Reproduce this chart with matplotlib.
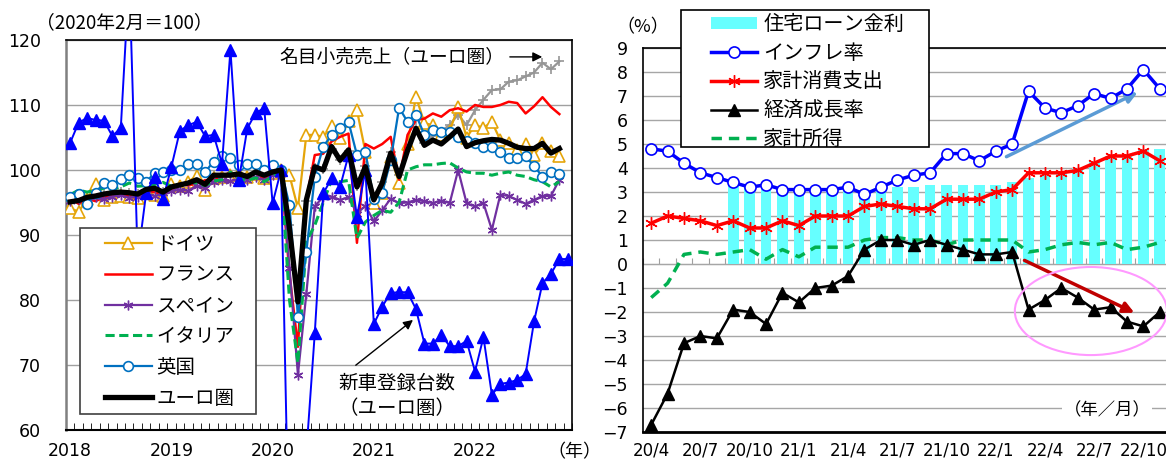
import numpy as np
import matplotlib.pyplot as plt
from matplotlib.patches import Ellipse, Rectangle

plt.rcParams['font.family'] = ['Noto Sans CJK JP', 'DejaVu Sans']

# ---- left panel: monthly index, 2018/1 - 2022/12 (Feb 2020 = 100) ----
year_labels = ['2018', '2019', '2020', '2021', '2022']

euro = [95.1, 95.3, 95.8, 96.0, 96.3, 96.5, 96.6, 96.5, 96.3, 97.0, 97.2, 96.6,
        97.4, 97.7, 98.0, 98.5, 97.8, 99.2, 99.2, 99.2, 99.4, 99.0, 99.7, 99.2,
        99.7, 100.0, 91.0, 79.7, 95.4, 100.5, 100.0, 103.6, 101.5, 103.1, 97.4, 100.5,
        95.4, 98.0, 102.6, 99.0, 103.0, 106.4, 103.8, 104.6, 104.0, 105.1, 106.3, 103.6,
        104.2, 104.5, 104.7, 104.6, 104.1, 103.5, 103.3, 103.3, 104.1, 102.6, 103.3]
germany = [94.1, 93.6, 95.5, 97.8, 95.4, 95.8, 96.0, 95.8, 95.7, 96.6, 96.2, 96.0,
           97.8, 97.5, 98.2, 99.1, 97.0, 98.8, 99.0, 99.2, 99.6, 98.9, 99.4, 98.7,
           99.5, 100.0, 99.2, 94.1, 105.4, 105.4, 105.1, 106.7, 104.9, 107.5, 109.2, 102.8,
           95.0, 96.5, 102.0, 98.0, 104.0, 111.3, 107.2, 106.9, 105.4, 106.0, 109.7, 105.0,
           106.9, 106.5, 107.4, 104.6, 104.2, 103.1, 104.0, 102.3, 104.1, 103.0, 102.1]
france = [95.6, 94.8, 95.6, 95.2, 95.8, 96.0, 96.3, 96.0, 95.7, 96.8, 96.6, 96.2,
          97.0, 97.9, 97.6, 98.0, 98.4, 98.6, 99.0, 99.7, 99.0, 99.2, 99.5, 98.6,
          99.6, 100.0, 84.0, 72.8, 95.5, 102.3, 102.5, 104.4, 105.1, 105.6, 88.8, 104.0,
          103.3, 104.0, 105.1, 98.5, 105.4, 107.7, 107.9, 108.7, 108.2, 109.2, 109.5, 109.0,
          110.0, 109.7, 109.7, 110.0, 110.5, 110.3, 108.7, 109.8, 111.2, 109.7, 108.6]
spain = [95.3, 95.6, 95.2, 95.8, 95.5, 95.9, 96.1, 95.7, 95.9, 96.3, 96.0, 96.4,
         96.7, 97.0, 96.8, 97.6, 97.2, 98.2, 98.4, 98.3, 98.6, 98.5, 98.9, 98.4,
         99.2, 100.0, 85.0, 68.5, 81.0, 94.4, 95.9, 95.9, 95.4, 95.8, 93.3, 94.5,
         92.1, 93.8, 95.6, 94.9, 95.0, 95.4, 95.2, 94.9, 95.3, 94.9, 100.0, 94.9,
         94.4, 94.9, 90.8, 96.2, 96.0, 95.4, 94.8, 95.4, 96.0, 96.0, 98.5]
italy = [96.2, 96.9, 96.6, 96.9, 97.2, 97.0, 97.4, 98.0, 97.5, 97.6, 97.8, 98.1,
         97.5, 97.7, 98.2, 98.0, 97.6, 98.3, 98.5, 99.7, 98.6, 98.4, 98.8, 98.2,
         99.0, 100.0, 80.0, 70.3, 89.0, 91.5, 95.0, 98.5, 98.2, 98.4, 89.5, 92.0,
         93.0, 93.8, 93.5, 95.0, 100.0, 100.5, 100.8, 100.8, 101.0, 101.1, 100.3, 99.7,
         99.5, 99.5, 99.2, 99.5, 99.7, 99.2, 99.0, 98.5, 98.2, 97.4, 98.2]
uk = [95.8, 96.3, 94.8, 96.5, 98.0, 97.7, 98.6, 99.2, 98.7, 98.2, 99.5, 99.7,
      100.0, 100.0, 101.0, 101.0, 99.7, 101.3, 102.1, 101.8, 100.8, 101.0, 100.9, 100.0,
      100.7, 100.0, 94.6, 77.4, 87.4, 99.0, 103.6, 105.4, 106.5, 107.4, 102.3, 102.8,
      95.5, 96.5, 101.5, 109.6, 107.4, 108.5, 105.4, 106.2, 105.9, 105.9, 105.1, 104.4,
      104.1, 103.6, 103.6, 102.7, 101.8, 101.8, 102.1, 100.6, 99.0, 99.7, 99.4]
retail_nominal = [95.0, 95.2, 95.7, 96.0, 96.2, 96.4, 96.6, 96.5, 96.3, 96.9, 97.1, 96.6,
                  97.3, 97.6, 97.9, 98.4, 97.8, 99.1, 99.2, 99.1, 99.4, 99.0, 99.6, 99.2,
                  99.7, 100.0, 91.5, 79.8, 95.2, 100.3, 100.2, 103.3, 101.6, 103.0, 97.6, 100.6,
                  95.6, 98.2, 102.8, 99.3, 103.4, 106.6, 104.2, 105.2, 105.9, 107.0, 108.5, 106.9,
                  109.2, 110.8, 112.3, 112.4, 113.6, 113.8, 114.4, 115.0, 116.5, 115.5, 116.7]
car_reg = [104.2, 107.3, 108.0, 107.7, 107.6, 105.2, 106.5, 130.0, 86.3, 96.4, 99.0, 95.5,
           100.5, 106.0, 106.9, 107.4, 105.2, 105.4, 101.0, 118.5, 98.5, 106.4, 108.8, 109.5,
           94.9, 100.0, 38.0, 20.0, 56.5, 74.9, 96.4, 98.7, 97.4, 102.3, 92.8, 100.0,
           76.3, 79.0, 81.1, 81.2, 81.2, 78.6, 73.3, 73.3, 74.6, 72.9, 72.9, 73.7,
           69.0, 74.3, 65.4, 67.1, 67.3, 67.7, 68.6, 76.7, 82.6, 84.0, 86.3, 86.3]

# ---- right panel: 2020/4 - 2022/11 (%) ----
month_labels = ['20/4', '20/7', '20/10', '21/1', '21/4', '21/7',
                '21/10', '22/1', '22/4', '22/7', '22/10']
inflation = [4.8, 4.7, 4.2, 3.8, 3.6, 3.4, 3.2, 3.3, 3.1, 3.1, 3.1, 3.1, 3.2, 2.9, 3.2, 3.5,
             3.7, 3.8, 4.6, 4.6, 4.3, 4.7, 5.0, 7.2, 6.5, 6.3, 6.6, 7.1, 6.9, 7.3, 8.1, 7.3]
consumption = [1.7, 2.0, 1.9, 1.8, 1.6, 1.8, 1.5, 1.5, 1.8, 1.6, 2.0, 2.0, 2.0, 2.4, 2.5, 2.4,
               2.3, 2.3, 2.7, 2.7, 2.7, 3.0, 3.1, 3.8, 3.8, 3.8, 3.9, 4.2, 4.5, 4.5, 4.7, 4.3]
gdp = [-6.7, -5.4, -3.3, -3.0, -3.1, -1.9, -2.0, -2.5, -1.2, -1.6, -1.0, -0.9, -0.5, 0.6, 1.0, 1.0,
       0.8, 1.0, 0.8, 0.6, 0.4, 0.4, 0.5, -1.9, -1.5, -1.0, -1.4, -1.9, -1.8, -2.4, -2.6, -2.0]
income = [-1.4, -0.8, 0.4, 0.5, 0.4, 0.5, 0.6, 0.2, 0.6, 0.3, 0.7, 0.7, 0.7, 1.0, 1.1, 1.1,
          1.0, 1.0, 0.8, 1.0, 1.0, 1.0, 1.0, 0.5, 0.6, 0.8, 0.9, 0.8, 0.9, 0.6, 0.7, 0.9]
# mortgage rate series starts in 2020/9
mortgage = [3.3, 3.2, 3.2, 3.1, 3.1, 3.1, 3.1, 3.1, 3.1, 3.1, 3.2, 3.2, 3.3, 3.3,
            3.3, 3.3, 3.3, 3.4, 3.6, 3.7, 3.8, 4.0, 4.3, 4.5, 4.6, 4.8, 4.8]

W, H = 1166, 459
fig = plt.figure(figsize=(W / 100, H / 100), dpi=100)


def px_axes(left, top, right, bottom):
    return fig.add_axes([left / W, 1 - bottom / H, (right - left) / W, (bottom - top) / H])


def px_box(left, top, right, bottom, edge):
    # white legend frame, drawn at figure level just under the legend itself
    r = Rectangle((left / W, 1 - bottom / H), (right - left) / W, (bottom - top) / H,
                  transform=fig.transFigure, facecolor='white', edgecolor=edge, lw=1.2,
                  zorder=4.9)
    fig.add_artist(r)


tick_font = 'DejaVu Sans'

# ================= left panel =================
ax1 = px_axes(66, 40, 572, 430)
gold = '#E5A50A'
xm = np.arange(len(euro))
xc = np.arange(len(car_reg))

h_de, = ax1.plot(xm, germany, color=gold, lw=1.6, marker='^', ms=8, mfc='white',
                 mec=gold, mew=1.2, label='ドイツ', zorder=3)
h_fr, = ax1.plot(xm, france, color='#FF0000', lw=1.8, label='フランス', zorder=3)
h_es, = ax1.plot(xm, spain, color='#7030A0', lw=1.6, marker=(6, 2, 0), ms=7, mew=1,
                 label='スペイン', zorder=3)
h_it, = ax1.plot(xm, italy, color='#00B050', lw=2.2, ls=(0, (3, 1.5)), label='イタリア', zorder=3)
h_uk, = ax1.plot(xm, uk, color='#0070C0', lw=1.6, marker='o', ms=7, mfc='white',
                 mec='#0070C0', mew=1.2, label='英国', zorder=3)
ax1.plot(xm, retail_nominal, color='#969696', lw=1.6, marker='+', ms=7, mew=1.2, zorder=2.5)
ax1.plot(xc, car_reg, color='#0000FF', lw=1.4, marker='^', ms=8, zorder=3.5)
h_eu, = ax1.plot(xm, euro, color='black', lw=3.8, label='ユーロ圏', zorder=4)

ax1.set_xlim(-0.5, 59.5)
ax1.set_ylim(60, 120)
ax1.set_yticks(range(60, 121, 10))
ax1.yaxis.grid(True, color='#A0A0A0', lw=1)
ax1.set_axisbelow(True)
ax1.set_xticks(np.arange(0, 60, 12))
ax1.set_xticklabels(year_labels)
ax1.set_xticks(np.arange(-0.5, 60, 1), minor=True)
ax1.tick_params(axis='x', which='major', length=0, pad=9, labelsize=12.5,
                labelfontfamily=tick_font)
ax1.tick_params(axis='x', which='minor', direction='in', length=5, color='black')
ax1.tick_params(axis='y', length=0, pad=18, labelsize=12.5, labelfontfamily=tick_font)
ax1.spines['left'].set_color('#808080')
ax1.spines['left'].set_linewidth(1.8)
for s in ['top', 'right']:
    ax1.spines[s].set_linewidth(1.2)
ax1.spines['bottom'].set_linewidth(1.5)

ax1.text(24.8, 117.4, '名目小売売上（ユーロ圏）', fontsize=13.5, ha='left', va='center')
ax1.annotate('', xy=(56.3, 117.4), xytext=(51.8, 117.4),
             arrowprops=dict(arrowstyle='-|>', color='black', lw=1, mutation_scale=14))
ax1.text(38.75, 65.3, '新車登録台数\n（ユーロ圏）', fontsize=14, ha='center', va='center',
         linespacing=1.25)
ax1.annotate('', xy=(40.9, 77.2), xytext=(33.6, 69.7),
             arrowprops=dict(arrowstyle='-|>', color='black', lw=1, mutation_scale=14))

px_box(80, 228, 256, 414, '#404040')
fig.legend(handles=[h_de, h_fr, h_es, h_it, h_uk, h_eu], loc='upper left',
           bbox_to_anchor=(105 / W, 1 - 234 / H), borderaxespad=0, borderpad=0,
           fontsize=14, labelspacing=0.5, handlelength=2.4, handletextpad=0.25,
           frameon=False)

fig.text(124 / W, 1 - 23 / H, '（2020年2月＝100）', fontsize=13.5, ha='center', va='center')
fig.text(574 / W, 1 - 452 / H, '（年）', fontsize=13, ha='center', va='center')

# ================= right panel =================
ax2 = px_axes(643, 48, 1168, 432)
xr = np.arange(len(inflation))
xb = xr[len(xr) - len(mortgage):]

b = ax2.bar(xb, mortgage, width=0.65, color='#66FFFF', zorder=2, label='住宅ローン金利')
h_inf, = ax2.plot(xr, inflation, color='#0000FF', lw=2.5, marker='o', ms=8, mfc='white',
                  mec='#0000FF', mew=1.2, zorder=4, label='インフレ率')
h_con, = ax2.plot(xr, consumption, color='#FF0000', lw=2.5, marker=(6, 2, 0), ms=9, mew=1,
                  zorder=4, label='家計消費支出')
h_gdp, = ax2.plot(xr, gdp, color='black', lw=1.8, marker='^', ms=9, zorder=5, label='経済成長率')
h_inc, = ax2.plot(xr, income, color='#00B050', lw=2.5, ls=(0, (3, 2)), zorder=3, label='家計所得')

ax2.set_xlim(-0.5, 31.5)
ax2.set_ylim(-7, 9)
ax2.set_yticks(range(-7, 10))
ax2.yaxis.grid(True, color='#A6A6A6', lw=1)
ax2.set_axisbelow(True)
ax2.set_xticks(np.arange(0, 32, 3))
ax2.set_xticklabels(month_labels)
ax2.tick_params(axis='x', length=0, pad=7, labelsize=12, labelfontfamily=tick_font)
ax2.tick_params(axis='y', length=0, pad=11, labelsize=12.5, labelfontfamily=tick_font)
ax2.spines['right'].set_visible(False)
ax2.spines['left'].set_linewidth(1.2)
ax2.spines['top'].set_linewidth(1.2)
ax2.spines['bottom'].set_linewidth(2)

# category ticks on the zero line
zero_axis = ax2.secondary_xaxis(7 / 16)
zero_axis.set_xticks(np.arange(-0.5, 32, 1))
zero_axis.tick_params(direction='in', length=4, color='#A0A0A0', labelbottom=False,
                      labeltop=False)
for s in zero_axis.spines.values():
    s.set_color('#A6A6A6')

ax2.annotate('', xy=(29.8, 7.2), xytext=(21.5, 4.42),
             arrowprops=dict(arrowstyle='-|>', color='#5B9BD5', lw=2.5, mutation_scale=16))
ax2.annotate('', xy=(29.6, -2.08), xytext=(22.6, 0.2),
             arrowprops=dict(arrowstyle='-|>', color='#C00000', lw=2.5, mutation_scale=16),
             zorder=6)
ax2.add_patch(Ellipse((26.8, -1.96), 9.27, 3.67, fill=False, edgecolor='#FF99FF', lw=1.5,
                      zorder=6))
ax2.text(27.8, -6.1, '（年／月）', fontsize=12.5, ha='center', va='center',
         bbox=dict(facecolor='white', edgecolor='none', pad=1), zorder=3)

px_box(681, 10, 929, 147, 'black')
fig.legend(handles=[b, h_inf, h_con, h_gdp, h_inc], loc='upper left',
           bbox_to_anchor=(711 / W, 1 - 14 / H), borderaxespad=0, borderpad=0,
           fontsize=14.5, labelspacing=0.38, handlelength=2.3, handleheight=0.5,
           handletextpad=0.3, frameon=False)

fig.text(643 / W, 1 - 27 / H, '（%）', fontsize=13, ha='center', va='center')

fig.savefig('out.png', dpi=100)
